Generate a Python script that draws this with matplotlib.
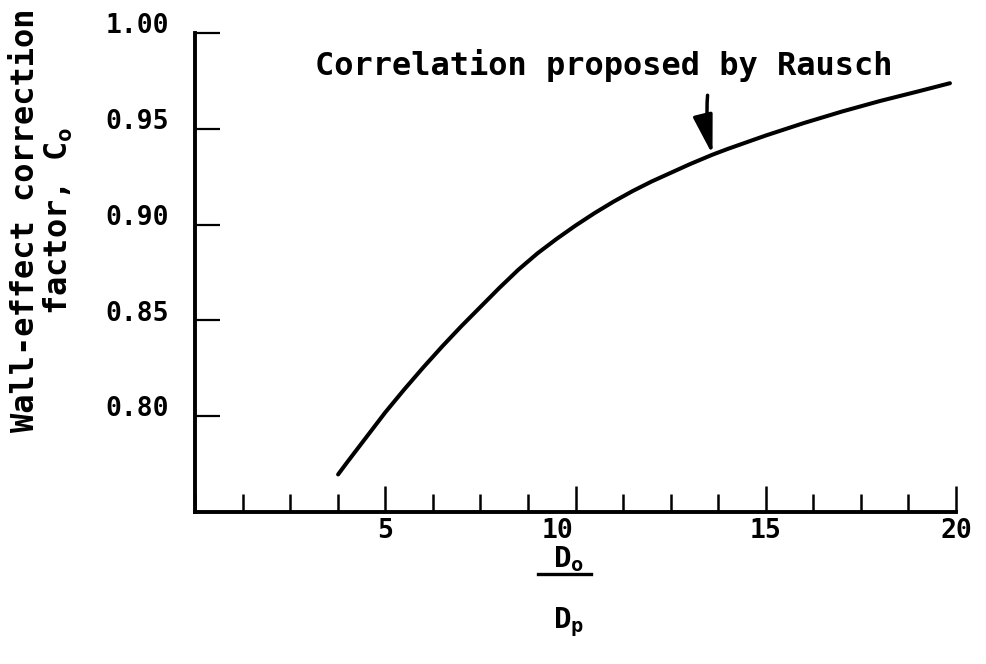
import numpy as np
import matplotlib
matplotlib.use("Agg")
import matplotlib.pyplot as plt
import matplotlib.transforms as mtransforms
from matplotlib import font_manager
from matplotlib.lines import Line2D
from matplotlib.ticker import MultipleLocator

# Rausch correlation, values
ratio = [3.76, 4.0, 4.5, 5.0, 5.5, 6.0, 6.5, 7.0, 7.5, 8.0, 8.5, 9.0, 9.5,
         10.0, 10.5, 11.0, 11.5, 12.0, 12.5, 13.0, 13.6, 14.0, 15.0, 16.0,
         17.0, 18.0, 19.0, 19.84]
factor = [0.7696, 0.776, 0.789, 0.802, 0.814, 0.8255, 0.8365, 0.847, 0.857,
          0.867, 0.8765, 0.885, 0.8925, 0.8995, 0.906, 0.912, 0.9175, 0.9225,
          0.927, 0.9315, 0.9365, 0.9395, 0.9465, 0.953, 0.959, 0.9645,
          0.9695, 0.9738]

x_major = [5, 10, 15, 20]
x_labels = ["5", "10", "15", "20"]
y_major = [0.80, 0.85, 0.90, 0.95, 1.00]
y_labels = ["0.80", "0.85", "0.90", "0.95", "1.00"]

note = "Correlation proposed by Rausch"
note_at = 13.6  # D0/Dp where the arrow lands on the curve

plt.rcParams['font.family'] = ['DejaVu Sans Mono']
plt.rcParams['font.weight'] = 'bold'
plt.rcParams['mathtext.default'] = 'regular'

# narrow digits for the tick labels if the narrow face is there
names = {f.name for f in font_manager.fontManager.ttflist}
if 'Liberation Sans Narrow' in names:
    tick_font, tick_size = 'Liberation Sans Narrow', 22
else:
    tick_font, tick_size = 'DejaVu Sans Mono', 19

fig = plt.figure(figsize=(9.86, 6.64), dpi=100)
ax = fig.add_axes([0.1978, 0.2289, 0.7718, 0.7214])

ax.plot(ratio, factor, color='black', lw=2.9, solid_capstyle='round',
        solid_joinstyle='round')
ax.set_xlim(0, 20)
ax.set_ylim(0.75, 1.00)

for side in ['top', 'right']:
    ax.spines[side].set_visible(False)
for side in ['left', 'bottom']:
    ax.spines[side].set_linewidth(2.8)

ax.set_xticks(x_major, x_labels)
ax.xaxis.set_minor_locator(MultipleLocator(1.25))
ax.tick_params(axis='x', which='major', direction='in', length=19, width=1.8,
               pad=4)
ax.tick_params(axis='x', which='minor', direction='in', length=13, width=1.8)
ax.set_yticks(y_major, y_labels)
ax.tick_params(axis='y', direction='in', length=18, width=1.6, pad=19)
for lbl in ax.get_xticklabels() + ax.get_yticklabels():
    lbl.set_fontfamily(tick_font)
    lbl.set_fontsize(tick_size)

# hand lettering sits a bit above the y ticks, and "10" is left of its tick
up = mtransforms.ScaledTranslation(0, 7 / 72, fig.dpi_scale_trans)
for lbl in ax.get_yticklabels():
    lbl.set_transform(lbl.get_transform() + up)
left = mtransforms.ScaledTranslation(-13 / 72, 0, fig.dpi_scale_trans)
lbl10 = ax.get_xticklabels()[1]
lbl10.set_transform(lbl10.get_transform() + left)

# annotation with arrow
tip_y = np.interp(note_at, ratio, factor)
ax.text(18.32, 0.978, note, fontsize=23, ha='right', va='baseline')
ax.annotate('', xy=(note_at, tip_y), xytext=(note_at - 0.13, tip_y + 0.031),
            arrowprops=dict(arrowstyle='-|>,head_length=1.2,head_width=0.3',
                            mutation_scale=20, lw=2.5, color='black',
                            shrinkA=0, shrinkB=0,
                            connectionstyle='arc3,rad=0.08'))

# y label
fig.text(0.043, 0.668, "Wall-effect correction\nfactor, $C_o$", rotation=90,
         ha='center', va='center', fontsize=23, linespacing=1.05,
         multialignment='center')

# x label as a fraction
fig.text(0.577, 0.158, "$D_o$", ha='center', va='center', fontsize=21)
fig.add_artist(Line2D([0.5456, 0.5994], [0.1355, 0.1355],
                      transform=fig.transFigure, color='black', lw=2.4))
fig.text(0.577, 0.063, "$D_p$", ha='center', va='center', fontsize=21)

fig.savefig("out.png", dpi=100)
